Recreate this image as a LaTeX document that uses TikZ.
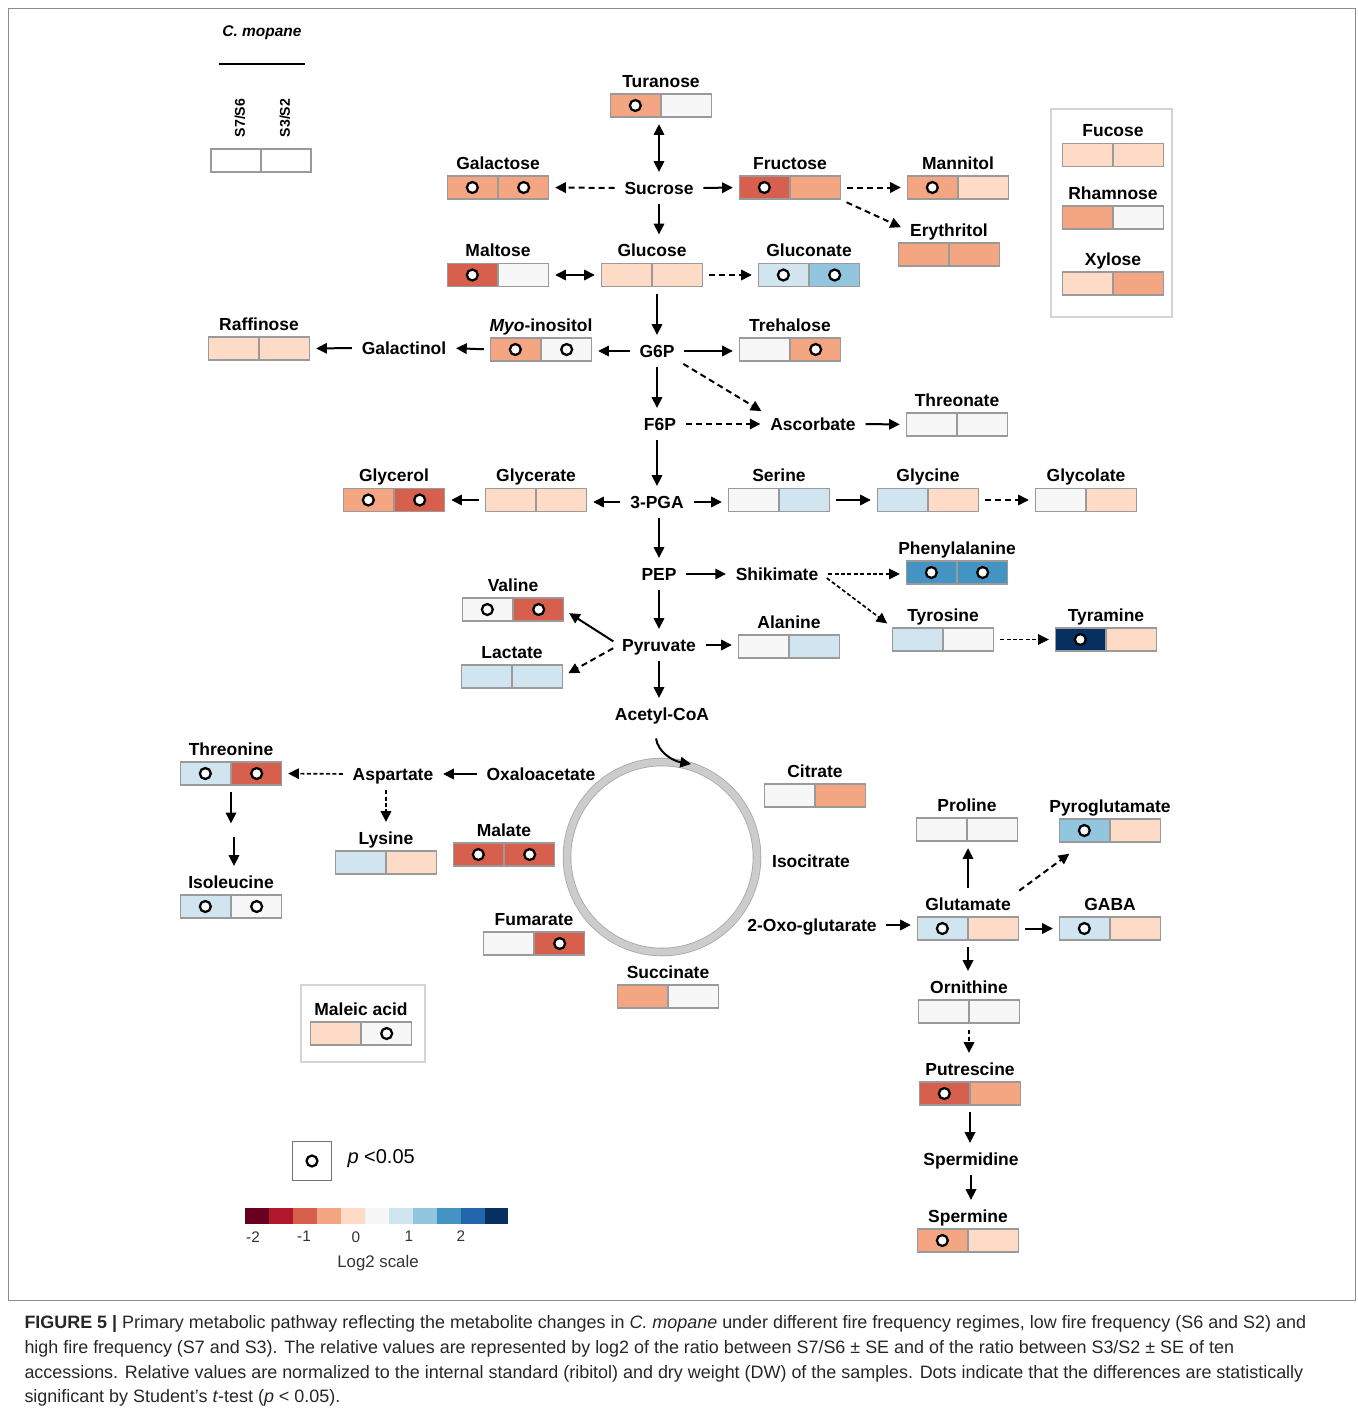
\documentclass[tikz,border=0pt]{standalone}
\usepackage{fontspec}
\setmainfont{Liberation Sans}
\usetikzlibrary{arrows.meta}

% RdBu log2 scale, from -2 (red) to +2 (blue)
\definecolor{rdbuA}{HTML}{67001F}
\definecolor{rdbuB}{HTML}{B2182B}
\definecolor{rdbuC}{HTML}{D6604D}
\definecolor{rdbuD}{HTML}{F4A582}
\definecolor{rdbuE}{HTML}{FDDBC7}
\definecolor{rdbuF}{HTML}{F7F7F7}
\definecolor{rdbuG}{HTML}{D1E5F0}
\definecolor{rdbuH}{HTML}{92C5DE}
\definecolor{rdbuI}{HTML}{4393C3}
\definecolor{rdbuJ}{HTML}{2166AC}
\definecolor{rdbuK}{HTML}{053061}
\definecolor{cellgray}{HTML}{9A9A9A}
\definecolor{panelgray}{HTML}{D4D4D4}

\tikzset{
	pw/.tip={Triangle[length=8pt,width=7.8pt]},
	met/.style={font=\fontsize{13.1}{15}\selectfont\bfseries, inner sep=2pt, text height=9.4pt, text depth=0pt},
	slot/.style={inner sep=0pt, minimum width=75pt, minimum height=17.25pt},
	cell/.style={draw=cellgray, line width=1pt, inner sep=0pt, minimum width=37.5pt, minimum height=17.25pt},
	sig/.style={circle, draw=black, fill=white, line width=1.7pt, inner sep=0pt, minimum size=8.2pt},
	conv/.style={-pw, line width=1.5pt, shorten >=5pt, shorten <=5pt},
	flux/.style={conv, dash pattern=on 4.5pt off 3pt},
	fineflux/.style={conv, line width=1.25pt, dash pattern=on 3pt off 1.8pt},
	bothway/.style={conv, pw-pw},
	panel/.style={draw=panelgray, line width=2pt},
	keytxt/.style={font=\fontsize{10.6}{12}\selectfont\bfseries, inner sep=1pt},
	scaletxt/.style={font=\fontsize{11.5}{13}\selectfont, text=black!80, inner sep=1pt},
	capt/.style={font=\fontsize{13.45}{15}\selectfont, text=black!85, inner sep=0pt}
}
\tikzset{every picture/.style={line width=0.75pt}}

% metabolite: id, x, y, label, fill S7/S6, fill S3/S2, dot S7/S6, dot S3/S2
\newcommand{\metab}[8]{%
	\node[slot] (#1) at (#2,#3) {};
	\node[cell, fill=#5, anchor=east] (#1-a) at (#1.center) {};
	\node[cell, fill=#6, anchor=west] (#1-b) at (#1.center) {};
	\ifnum#7=1 \node[sig] at (#1-a) {};\fi
	\ifnum#8=1 \node[sig] at (#1-b) {};\fi
	\node[met] (#1-t) at (#2,{#3-24.5}) {#4};}

\begin{document}
\begin{tikzpicture}[x=0.75pt,y=0.75pt,yscale=-1,xscale=1]
	\useasboundingbox (0,0) rectangle (1358,1413);
	\draw[draw=black!45, line width=0.6pt] (8,8) rectangle (1355,1300);

	%Key: C. mopane
	\node[font=\fontsize{11.6}{13}\selectfont\bfseries\itshape] (species) at (262,33) {C. mopane};
	\draw[line width=1.5pt] (219,64) -- (305,64);
	\node[keytxt, rotate=90] (ks76) at (240,118) {S7/S6};
	\node[keytxt, rotate=90] (ks32) at (285,118) {S3/S2};
	\node[cell, fill=white] (key-a) at (236,160.5) {};
	\node[cell, fill=white] (key-b) at (286,160.5) {};

	%Sugars
	\metab{turanose}{661}{105.5}{Turanose}{rdbuD}{rdbuF}{1}{0}
	\node[met] (sucrose) at (659,188) {Sucrose};
	\metab{galactose}{498}{187.5}{Galactose}{rdbuD}{rdbuD}{1}{1}
	\metab{fructose}{790}{187.5}{Fructose}{rdbuC}{rdbuD}{1}{0}
	\metab{mannitol}{958}{187.5}{Mannitol}{rdbuD}{rdbuE}{1}{0}
	\metab{erythritol}{949}{254.5}{Erythritol}{rdbuD}{rdbuD}{0}{0}
	\metab{maltose}{498}{275}{Maltose}{rdbuC}{rdbuF}{1}{0}
	\metab{glucose}{652}{275}{Glucose}{rdbuE}{rdbuE}{0}{0}
	\metab{gluconate}{809}{275}{Gluconate}{rdbuG}{rdbuH}{1}{1}

	%Panel: Fucose, Rhamnose, Xylose
	\draw[panel] (1051,109) rectangle (1172,317);
	\metab{fucose}{1113}{155}{Fucose}{rdbuE}{rdbuE}{0}{0}
	\metab{rhamnose}{1113}{217.5}{Rhamnose}{rdbuD}{rdbuF}{0}{0}
	\metab{xylose}{1113}{283.5}{Xylose}{rdbuE}{rdbuD}{0}{0}

	%G6P branch
	\metab{raffinose}{259}{348.5}{Raffinose}{rdbuE}{rdbuE}{0}{0}
	\node[met] (galactinol) at (404,348) {Galactinol};
	\metab{myoinositol}{541}{349.5}{\textit{Myo}-inositol}{rdbuD}{rdbuF}{1}{1}
	\node[met] (g6p) at (657,351) {G6P};
	\metab{trehalose}{790}{349.5}{Trehalose}{rdbuF}{rdbuD}{0}{1}
	\node[met] (f6p) at (660,424) {F6P};
	\node[met] (ascorbate) at (813,424) {Ascorbate};
	\metab{threonate}{957}{424.5}{Threonate}{rdbuF}{rdbuF}{0}{0}

	%3-PGA branch
	\metab{glycerol}{394}{500}{Glycerol}{rdbuD}{rdbuC}{1}{1}
	\metab{glycerate}{536}{500}{Glycerate}{rdbuE}{rdbuE}{0}{0}
	\node[met] (pga) at (657,502) {3-PGA};
	\metab{serine}{779}{500}{Serine}{rdbuF}{rdbuG}{0}{0}
	\metab{glycine}{928}{500}{Glycine}{rdbuG}{rdbuE}{0}{0}
	\metab{glycolate}{1086}{500}{Glycolate}{rdbuF}{rdbuE}{0}{0}

	%PEP, pyruvate
	\node[met] (pep) at (659,574) {PEP};
	\node[met] (shikimate) at (777,574) {Shikimate};
	\metab{phenylalanine}{957}{572.5}{Phenylalanine}{rdbuI}{rdbuI}{1}{1}
	\metab{tyrosine}{943}{639.5}{Tyrosine}{rdbuG}{rdbuF}{0}{0}
	\metab{tyramine}{1106}{639.5}{Tyramine}{rdbuK}{rdbuE}{1}{0}
	\metab{valine}{513}{609.5}{Valine}{rdbuF}{rdbuC}{1}{1}
	\metab{lactate}{512}{676.5}{Lactate}{rdbuG}{rdbuG}{0}{0}
	\node[met] (pyruvate) at (659,645) {Pyruvate};
	\metab{alanine}{789}{646.5}{Alanine}{rdbuF}{rdbuG}{0}{0}
	\node[met] (acetylcoa) at (662,714) {Acetyl-CoA};

	%TCA cycle
	\draw[draw=black!35, double=black!20, double distance=5.2pt, line width=0.6pt] (662,857) circle (95);
	\coordinate (tca-in) at (691,764);
	\node[met] (oxaloacetate) at (541,774) {Oxaloacetate};
	\node[met] (aspartate) at (393,774) {Aspartate};
	\metab{threonine}{231}{773.5}{Threonine}{rdbuG}{rdbuC}{1}{1}
	\metab{isoleucine}{231}{906.5}{Isoleucine}{rdbuG}{rdbuF}{1}{1}
	\coordinate (thr-mid) at (234,830);
	\metab{lysine}{386}{862.5}{Lysine}{rdbuG}{rdbuE}{0}{0}
	\metab{malate}{504}{854.5}{Malate}{rdbuC}{rdbuC}{1}{1}
	\metab{fumarate}{534}{943.5}{Fumarate}{rdbuF}{rdbuC}{0}{1}
	\metab{succinate}{668}{996.5}{Succinate}{rdbuD}{rdbuF}{0}{0}
	\metab{citrate}{815}{795.5}{Citrate}{rdbuF}{rdbuD}{0}{0}
	\node[met] (isocitrate) at (811,861) {Isocitrate};
	\node[met] (oxoglutarate) at (812,925) {2-Oxo-glutarate};

	%Glutamate family
	\metab{proline}{967}{829.5}{Proline}{rdbuF}{rdbuF}{0}{0}
	\metab{pyroglutamate}{1110}{830.5}{Pyroglutamate}{rdbuH}{rdbuE}{1}{0}
	\metab{glutamate}{968}{928.5}{Glutamate}{rdbuG}{rdbuE}{1}{0}
	\metab{gaba}{1110}{928.5}{GABA}{rdbuG}{rdbuE}{1}{0}
	\metab{ornithine}{969}{1011.5}{Ornithine}{rdbuF}{rdbuF}{0}{0}
	\metab{putrescine}{970}{1093.5}{Putrescine}{rdbuC}{rdbuD}{1}{0}
	\node[met] (spermidine) at (971,1159) {Spermidine};
	\metab{spermine}{968}{1240.5}{Spermine}{rdbuD}{rdbuE}{1}{0}

	%Panel: Maleic acid
	\draw[panel] (301,985) rectangle (425,1062);
	\metab{maleic}{361}{1033.5}{Maleic acid}{rdbuE}{rdbuF}{0}{1}

	%Connectors
	\draw[bothway] (sucrose.north) -- (sucrose.north |- turanose.south);
	\draw[flux] (sucrose.west) -- (galactose.east);
	\draw[conv] (sucrose.east) -- (fructose.west);
	\draw[conv] (sucrose.south) -- (sucrose.south |- glucose-t.north);
	\draw[flux] (fructose.east) -- (mannitol.west);
	\draw[flux] (fructose.south east) -- (erythritol-t.west);
	\draw[bothway] (maltose.east) -- (glucose.west);
	\draw[flux] (glucose.east) -- (gluconate.west);
	\draw[conv] (g6p.north |- glucose.south) -- (g6p.north);
	\draw[conv] (g6p.west) -- (g6p.west -| myoinositol.east);
	\draw[conv] (myoinositol.west) -- (galactinol.east);
	\draw[conv] (galactinol.west) -- (raffinose.east);
	\draw[conv] (g6p.east) -- (g6p.east -| trehalose.west);
	\draw[flux] (g6p.south east) -- (ascorbate.north west);
	\draw[conv] (g6p.south) -- (g6p.south |- f6p.north);
	\draw[flux] (f6p.east) -- (ascorbate.west);
	\draw[conv] (ascorbate.east) -- (threonate.west);
	\draw[conv] (pga.north |- f6p.south) -- (pga.north);
	\draw[conv] (pga.west) -- (pga.west -| glycerate.east);
	\draw[conv] (glycerate.west) -- (glycerol.east);
	\draw[conv] (pga.east) -- (pga.east -| serine.west);
	\draw[conv] (serine.east) -- (glycine.west);
	\draw[flux] (glycine.east) -- (glycolate.west);
	\draw[conv] (pep.north |- pga.south) -- (pep.north);
	\draw[conv] (pep.east) -- (shikimate.west);
	\draw[fineflux] (shikimate.east) -- (shikimate.east -| phenylalanine.west);
	\draw[fineflux] (shikimate.east) -- (tyrosine.north west);
	\draw[fineflux] (tyrosine.east) -- (tyramine.west);
	\draw[conv] (pep.south) -- (pep.south |- pyruvate.north);
	\draw[conv] (pyruvate.west) -- (valine.east);
	\draw[flux] (pyruvate.west) -- (lactate.east);
	\draw[conv] (pyruvate.east) -- (pyruvate.east -| alanine.west);
	\draw[conv] (pyruvate.south) -- (pyruvate.south |- acetylcoa.north);
	\draw[conv, shorten <=0pt, shorten >=0pt] (acetylcoa.south) ++(-6,15) .. controls +(2,14) and +(-18,-3) .. (tca-in);
	\draw[conv] (oxaloacetate.west) -- (aspartate.east);
	\draw[fineflux] (aspartate.west) -- (threonine.east);
	\draw[fineflux] (aspartate.south -| lysine-t.north) -- (lysine-t.north);
	\draw[conv] (threonine.south) -- (threonine.south |- thr-mid);
	\draw[conv] (thr-mid) -- (thr-mid |- isoleucine-t.north);
	\draw[conv] (oxoglutarate.east) -- (oxoglutarate.east -| glutamate.west);
	\draw[conv] (glutamate-t.north) -- (glutamate-t.north |- proline.south);
	\draw[flux, shorten >=14pt] (glutamate-t.north east) -- (pyroglutamate-a.south);
	\draw[conv] (glutamate.east) -- (gaba.west);
	\draw[conv] (glutamate.south) -- (glutamate.south |- ornithine-t.north);
	\draw[fineflux] (ornithine.south) -- (ornithine.south |- putrescine-t.north);
	\draw[conv] (putrescine.south) -- (putrescine.south |- spermidine.north);
	\draw[conv] (spermidine.south) -- (spermidine.south |- spermine-t.north);

	%Key: significance and colour scale
	\node[draw=black!55, line width=0.8pt, minimum size=29pt, inner sep=0pt] (pkey) at (312,1161) {};
	\node[sig] at (pkey) {};
	\node[font=\fontsize{15}{17}\selectfont, anchor=west, inner sep=0pt] (pval) at (347,1159) {\textit{p} <0.05};
	\fill[rdbuA] (245,1208) rectangle (269,1224);
	\fill[rdbuB] (269,1208) rectangle (293,1224);
	\fill[rdbuC] (293,1208) rectangle (317,1224);
	\fill[rdbuD] (317,1208) rectangle (341,1224);
	\fill[rdbuE] (341,1208) rectangle (365,1224);
	\fill[rdbuF] (365,1208) rectangle (389,1224);
	\fill[rdbuG] (389,1208) rectangle (413,1224);
	\fill[rdbuH] (413,1208) rectangle (437,1224);
	\fill[rdbuI] (437,1208) rectangle (461,1224);
	\fill[rdbuJ] (461,1208) rectangle (485,1224);
	\fill[rdbuK] (485,1208) rectangle (508,1224);
	\node[scaletxt] (sm2) at (253,1237) {-2};
	\node[scaletxt] (sm1) at (304,1236) {-1};
	\node[scaletxt] (s0) at (356,1237) {0};
	\node[scaletxt] (sp1) at (409,1236) {1};
	\node[scaletxt] (sp2) at (461,1236) {2};
	\node[scaletxt, font=\fontsize{12.6}{14}\selectfont] (slog) at (378,1263) {Log2 scale};

	%Caption
	\node[capt, anchor=base west] (cap1) at (24,1328) {\textbf{FIGURE 5 |} Primary metabolic pathway reflecting the metabolite changes in \textit{C. mopane} under different fire frequency regimes, low fire frequency (S6 and S2) and};
	\node[capt, anchor=base west] (cap2) at (24,1353) {high fire frequency (S7 and S3). The relative values are represented by log2 of the ratio between S7/S6 ± SE and of the ratio between S3/S2 ± SE of ten};
	\node[capt, anchor=base west] (cap3) at (24,1378) {accessions. Relative values are normalized to the internal standard (ribitol) and dry weight (DW) of the samples. Dots indicate that the differences are statistically};
	\node[capt, anchor=base west] (cap4) at (24,1402) {significant by Student’s \textit{t}-test (\textit{p} < 0.05).};
\end{tikzpicture}
\end{document}
